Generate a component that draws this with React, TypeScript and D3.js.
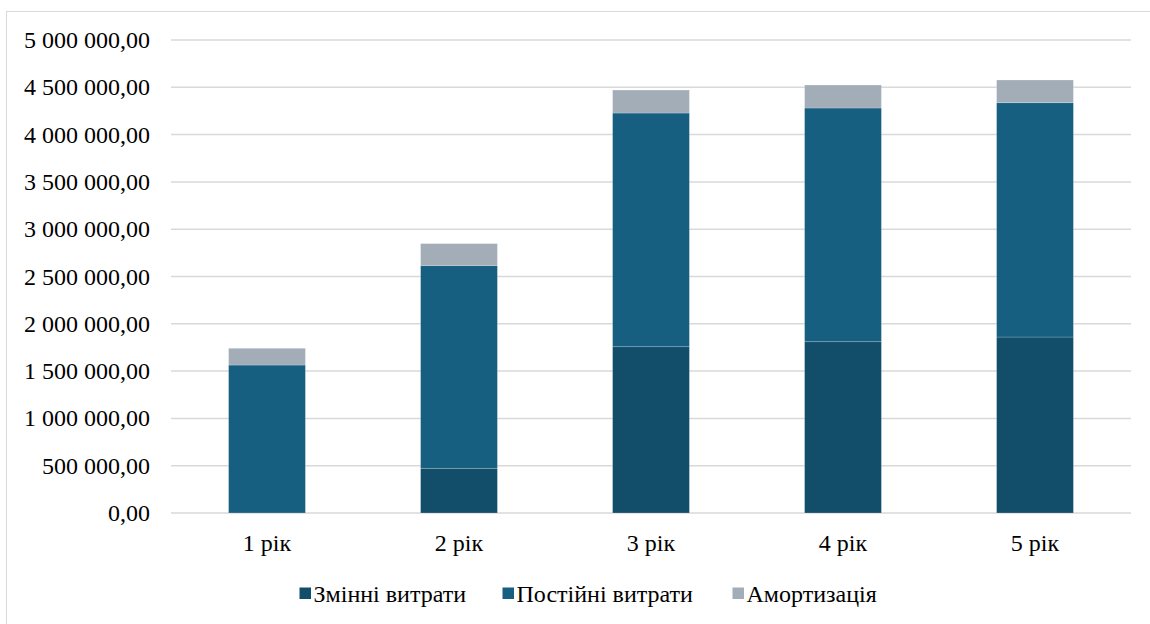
import React from "react";
import * as d3 from "d3";

const categories = ["1 рік", "2 рік", "3 рік", "4 рік", "5 рік"];
const seriesNames = ["Змінні витрати", "Постійні витрати", "Амортизація"];
const variableCosts = [0, 472500, 1758000, 1811000, 1860000];
const fixedCosts = [1564000, 2142000, 2470000, 2470000, 2477000];
const depreciation = [177000, 233000, 243000, 243000, 240000];
const yTicks = [0, 500000, 1000000, 1500000, 2000000, 2500000, 3000000, 3500000, 4000000, 4500000, 5000000];
const colors = ["#124e6a", "#175f81", "#a2adb8"];

const W = 1150;
const H = 624;
const TS: React.CSSProperties = { fontFamily: '"Liberation Serif"', fontSize: "24px" };

function fmt(v: number): string {
  const s = d3.format(",.2f")(v);
  return s.replace(/,/g, " ").replace(".", ",");
}

export default function App() {
  const x = d3.scaleBand<string>().domain(categories).range([171, 1131]).paddingInner(0.6).paddingOuter(0.3);
  const y = d3.scaleLinear().domain([0, 5000000]).range([513, 40]);

  const rows = categories.map((c, i) => ({
    cat: c,
    v0: variableCosts[i],
    v1: fixedCosts[i],
    v2: depreciation[i],
  }));
  const stack = d3.stack<any>().keys(["v0", "v1", "v2"]);
  const layers = stack(rows);

  const legendItems = [
    { sq: 299.5, tx: 313.5 },
    { sq: 502.5, tx: 516.5 },
    { sq: 732.5, tx: 746.5 },
  ];

  return (
    <svg width={W} height={H} style={{ position: "absolute", left: 0, top: 0 }}>
      <rect x={6.5} y={11.5} width={W + 10} height={H + 10} fill="none" stroke="#d9d9d9" strokeWidth={1} />
      {yTicks.map((t) => (
        <line key={"g" + t} x1={171} x2={1131} y1={y(t)} y2={y(t)} stroke="#d9d9d9" strokeWidth={1.5} />
      ))}
      {yTicks.map((t) => (
        <text key={"t" + t} x={150} y={y(t) + 8} textAnchor="end" style={TS} fill="#000">
          {fmt(t)}
        </text>
      ))}
      {layers.map((layer, li) =>
        layer.map((d, i) => {
          const h = y(d[0]) - y(d[1]);
          if (h <= 0) return null;
          return (
            <rect
              key={li + "-" + i}
              x={x(categories[i])!}
              y={y(d[1])}
              width={x.bandwidth()}
              height={h}
              fill={colors[li]}
              stroke="#ffffff"
              strokeOpacity={0.25}
              strokeWidth={0.75}
            />
          );
        })
      )}
      {categories.map((c) => (
        <text key={c} x={x(c)! + x.bandwidth() / 2} y={551} textAnchor="middle" style={TS} fill="#000">
          {c}
        </text>
      ))}
      {seriesNames.map((s, i) => (
        <rect key={"lr" + s} x={legendItems[i].sq} y={587.5} width={11.5} height={11.5} fill={colors[i]} />
      ))}
      {seriesNames.map((s, i) => (
        <text key={"lt" + s} x={legendItems[i].tx} y={601.5} style={TS} fill="#000">
          {s}
        </text>
      ))}
    </svg>
  );
}
